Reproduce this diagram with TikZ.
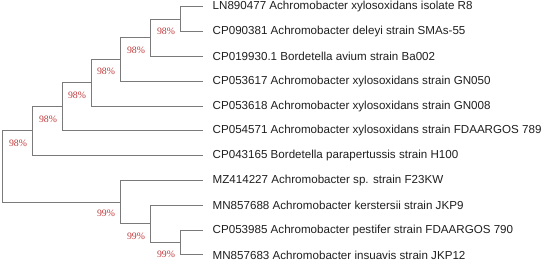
\documentclass[tikz,border=0pt]{standalone}
\usepackage{fontspec}
\setmainfont{Liberation Sans}
\newfontfamily\lblfont{Liberation Serif}
\definecolor{branch}{HTML}{7A7A7A}
\definecolor{boot}{HTML}{C0393B}
\begin{document}
\begin{tikzpicture}[x=1pt,y=-1pt,
  leaf/.style={anchor=west,inner xsep=9.5pt,inner ysep=0pt,font=\fontsize{11.6}{14}\selectfont,text=black!88},
  br/.style={draw=branch,line width=1pt},
  bootlbl/.style={font=\lblfont\fontsize{9.8}{11}\selectfont,text=boot,inner sep=0pt}]
\useasboundingbox (0,0) rectangle (550,261);
% leaves
\node[leaf] (l1) at (203,7) {LN890477 Achromobacter xylosoxidans isolate R8};
\node[leaf] (l2) at (203,31.8) {CP090381 Achromobacter deleyi strain SMAs-55};
\node[leaf] (l3) at (203,56.6) {CP019930.1 Bordetella avium strain Ba002};
\node[leaf] (l4) at (203,81.4) {CP053617 Achromobacter xylosoxidans strain GN050};
\node[leaf] (l5) at (203,106.2) {CP053618 Achromobacter xylosoxidans strain GN008};
\node[leaf] (l6) at (203,131) {CP054571 Achromobacter xylosoxidans strain FDAARGOS 789};
\node[leaf] (l7) at (203,155.8) {CP043165 Bordetella parapertussis strain H100};
\node[leaf] (l8) at (203,180.6) {MZ414227 Achromobacter sp. strain F23KW};
\node[leaf] (l9) at (203,205.4) {MN857688 Achromobacter kerstersii strain JKP9};
\node[leaf] (l10) at (203,230.2) {CP053985 Achromobacter pestifer strain FDAARGOS 790};
\node[leaf] (l11) at (203,255) {MN857683 Achromobacter insuavis strain JKP12};
% internal nodes
\coordinate (G) at (180,19.4);
\coordinate (F) at (150,38);
\coordinate (E) at (120,59.7);
\coordinate (D) at (91,83);
\coordinate (C) at (62,107);
\coordinate (A) at (32,131);
\coordinate (I) at (180,242.6);
\coordinate (H) at (150,224);
\coordinate (B) at (120,202.3);
\coordinate (R) at (2.5,166.6);
% branches
\draw[br] (G) |- (l1.west); \draw[br] (G) |- (l2.west);
\draw[br] (F) |- (G); \draw[br] (F) |- (l3.west);
\draw[br] (E) |- (F); \draw[br] (E) |- (l4.west);
\draw[br] (D) |- (E); \draw[br] (D) |- (l5.west);
\draw[br] (C) |- (D); \draw[br] (C) |- (l6.west);
\draw[br] (A) |- (C); \draw[br] (A) |- (l7.west);
\draw[br] (I) |- (l10.west); \draw[br] (I) |- (l11.west);
\draw[br] (H) |- (l9.west); \draw[br] (H) |- (I);
\draw[br] (B) |- (l8.west); \draw[br] (B) |- (H);
\draw[br] (R) |- (A); \draw[br] (R) |- (B);
% bootstrap labels
\node[bootlbl] (bG) at ([shift={(-14,12)}]G) {98\%};
\node[bootlbl] (bF) at ([shift={(-14,12)}]F) {98\%};
\node[bootlbl] (bE) at ([shift={(-14,12)}]E) {98\%};
\node[bootlbl] (bD) at ([shift={(-14,12)}]D) {98\%};
\node[bootlbl] (bC) at ([shift={(-14,12)}]C) {98\%};
\node[bootlbl] (bA) at ([shift={(-14,12)}]A) {98\%};
\node[bootlbl] (bB) at ([shift={(-14,11)}]B) {99\%};
\node[bootlbl] (bH) at ([shift={(-14,12)}]H) {99\%};
\node[bootlbl] (bI) at ([shift={(-14,11.5)}]I) {99\%};
\end{tikzpicture}
\end{document}
